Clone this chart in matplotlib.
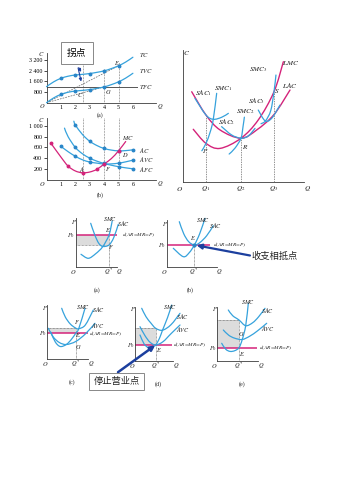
import numpy as np
import matplotlib
matplotlib.use('Agg')
import matplotlib.pyplot as plt
from matplotlib.path import Path
from matplotlib.patches import PathPatch, Rectangle

plt.rcParams['font.family'] = ['Liberation Serif', 'DejaVu Serif']
plt.rcParams['mathtext.fontset'] = 'stix'

W_PX, H_PX = 353, 500
BLUE = '#36a2dc'
DOT = '#2a86c8'
PINK = '#d4237a'
NAVY = '#1c3f9e'
AXC = '#3c3c3c'
SHADE = '#dcdcdc'
CJK = ['Noto Sans CJK SC', 'DejaVu Sans']

# ---------------- data: short-run cost curves (a) ----------------
q_tot = [0, 0.5, 1, 1.5, 2, 2.5, 3, 3.5, 4, 4.5, 5, 5.5, 6]
tc = [1200, 1560, 1820, 1980, 2070, 2120, 2180, 2270, 2380, 2550, 2760, 3040, 3400]
tvc = [0, 360, 620, 780, 870, 920, 980, 1070, 1180, 1350, 1560, 1840, 2200]
tfc = 1200
dot_q_tot = [1, 2, 3, 4, 5]
x_ticks = [1, 2, 3, 4, 5, 6]
y_ticks_a = [800, 1600, 2400, 3200]
y_labels_a = ['800', '1 600', '2 400', '3 200']
guide_q = [2.5, 4, 5]
guide_top_a = [3070, 2500, 3070]

# ---------------- data: average / marginal cost (b) ----------------
q_ac = [1.9, 2, 2.5, 3, 3.5, 4, 4.5, 5, 5.5, 6]
ac = [1090, 1020, 840, 715, 635, 580, 550, 535, 540, 555]
q_avc = [1, 1.5, 2, 2.5, 3, 3.5, 4, 4.5, 5, 5.5, 6]
avc = [620, 520, 435, 368, 327, 306, 290, 292, 305, 330, 362]
q_afc = [1.25, 1.5, 2, 2.5, 3, 3.5, 4, 4.5, 5, 5.5, 6]
afc = [960, 800, 600, 480, 400, 343, 300, 267, 240, 218, 200]
q_mc = [0.3, 1, 1.5, 2, 2.5, 3, 3.5, 4, 4.5, 5, 5.5]
mc = [680, 420, 250, 160, 125, 140, 190, 290, 390, 535, 710]
y_ticks_b = [200, 400, 600, 800, 1000]
y_labels_b = ['200', '400', '600', '800', '1 000']

# ---------------- data: long-run curves ----------------
lac = [(0.67, 6.83), (1.77, 5.06), (2.85, 3.93), (4.46, 3.3), (5.67, 3.93), (7.0, 5.1), (8.23, 6.96)]
lmc = [(0.79, 3.98), (1.77, 2.91), (2.85, 2.53), (4.46, 3.3), (5.79, 4.69), (7.0, 6.83), (7.72, 9.11)]
sac1 = [(0.92, 6.33), (1.77, 5.06), (2.33, 4.74), (2.97, 4.89), (3.49, 5.19)]
smc1 = [(1.45, 2.35), (1.77, 2.91), (2.1, 3.8), (2.33, 4.74), (2.59, 6.71)]
sac2 = [(2.97, 4.18), (3.74, 3.55), (4.46, 3.3), (5.02, 3.47), (5.54, 4.05)]
smc2 = [(3.55, 2.1), (4.0, 2.55), (4.46, 3.3), (4.62, 4.2), (4.72, 4.9)]
sac3 = [(5.79, 5.44), (6.31, 4.63), (6.82, 4.81), (7.46, 5.82)]
smc3 = [(6.0, 4.4), (6.35, 4.62), (6.75, 5.4), (7.0, 6.83), (7.15, 8.1)]
q_long = [1.77, 4.46, 7.0]
q_long_top = [5.06, 3.3, 6.83]

# ---------------- data: firm equilibrium panels (a)-(e) ----------------
# (a) profit
pa_smc = [(5.3, 12.4), (12.6, 8.4), (20, 13), (27, 20), (33.3, 31.7), (36.5, 45.7)]
pa_sac = [(15, 43.4), (19, 32), (23, 23.5), (27, 20.3), (33.3, 21.7), (38, 29), (42.6, 42.4)]
pa_p0, pa_q, pa_f = 31.7, 33.3, 21.7
# (b) break-even
pb_smc = [(6.6, 18.4), (16.6, 10), (22.5, 14), (27.7, 21.7), (33, 33), (38.3, 48.4)]
pb_sac = [(12.6, 45), (17, 33), (22, 25), (27.7, 21.7), (33, 24), (40, 31), (46.6, 41)]
pb_p0, pb_q = 21.7, 27.7
# (c) loss, keep producing
pc_smc = [(3.4, 27), (8, 17), (13, 12.5), (19, 14.5), (24, 19.5), (28.4, 25.7), (31.5, 30.5), (37.7, 50.7)]
pc_sac = [(14.4, 50.7), (18, 42), (23, 35), (28.4, 30.9), (31.5, 30.3), (38, 34), (46, 49)]
pc_avc = [(1, 30.7), (6, 22), (12, 16.5), (19, 14.5), (28.4, 17.5), (38, 25), (47.7, 35.7)]
pc_p0, pc_q, pc_f = 25.7, 28.4, 30.7
# (d) shutdown point
pd_smc = [(5, 25.7), (9, 17), (13, 13.3), (17, 13.6), (20.7, 15.7), (24.5, 22.5), (27.5, 30.5), (32.5, 43), (36.7, 55.7)]
pd_sac = [(6.7, 52.4), (11, 44), (16, 37.5), (20.7, 32.4), (27.5, 30.5), (36, 36), (45, 47.4)]
pd_avc = [(5, 34), (10, 25), (15, 18.5), (20.7, 15.7), (28, 19), (36, 27), (45, 35.7)]
pd_p0, pd_q, pd_f = 15.7, 20.7, 32.4
# (e) below shutdown
pe_smc = [(5, 17.4), (9, 11.5), (13.3, 9.3), (18, 10), (22.3, 13), (25.5, 21), (29, 35), (31.6, 57.4)]
pe_sac = [(11.6, 50.7), (16, 45), (22.3, 40.7), (29, 35), (36, 38), (42, 44), (48.3, 52.4)]
pe_avc = [(6.6, 30.7), (12, 25.5), (18, 22.5), (25.5, 21.2), (33, 24.5), (41, 30), (50, 37.4)]
pe_p0, pe_q, pe_f = 13, 22.3, 40.7


def px_axes(fig, left, top, right, bottom):
    ax = fig.add_axes([left / W_PX, 1 - bottom / H_PX, (right - left) / W_PX, (bottom - top) / H_PX])
    ax.patch.set_alpha(0)
    for s in ['top', 'right']:
        ax.spines[s].set_visible(False)
    for s in ['left', 'bottom']:
        ax.spines[s].set_color(AXC)
        ax.spines[s].set_linewidth(0.6)
    return ax


def smooth(ax, pts, color, lw=0.9, zorder=3):
    """catmull-rom through the read points, drawn as a bezier path"""
    p = np.asarray(pts, float)
    ext = np.vstack([p[0], p, p[-1]])
    verts = [p[0]]
    codes = [Path.MOVETO]
    for i in range(len(p) - 1):
        p0, p1, p2, p3 = ext[i], ext[i + 1], ext[i + 2], ext[i + 3]
        verts += [p1 + (p2 - p0) / 6, p2 - (p3 - p1) / 6, p2]
        codes += [Path.CURVE4] * 3
    ax.add_patch(PathPatch(Path(verts, codes), fill=False, edgecolor=color, lw=lw,
                           clip_on=False, capstyle='round', zorder=zorder))


def lab(ax, x, y, s, size=4.6, ha='center', **kw):
    ax.text(x, y, s, fontsize=size, ha=ha, va='center', color='#222222', **kw)


def pts(xs, ys):
    return list(zip(xs, ys))


fig = plt.figure(figsize=(3.53, 5.0), dpi=100)

# ================= (a) total cost =================
axa = px_axes(fig, 46.5, 102.7 - 3700 / 800 * 10.7, 46.5 + 14.4 * 7.6, 102.7)
axa.set_xlim(0, 7.6)
axa.set_ylim(0, 3700)
axa.set_xticks(x_ticks)
axa.set_xticklabels([str(v) for v in x_ticks])
axa.set_yticks(y_ticks_a)
axa.set_yticklabels(y_labels_a)
axa.tick_params(axis='x', length=0, pad=1.5, labelsize=4.3)
axa.tick_params(axis='y', length=2, width=0.5, pad=1, labelsize=4.3)
for gq, gt in zip(guide_q, guide_top_a):
    axa.plot([gq, gq], [0, gt], ls=(0, (1, 1.2)), color='#555555', lw=0.5)
axa.plot([0, 6.3], [tfc, tfc], color='#555555', lw=0.7)
i_e = q_tot.index(5)
i_g = q_tot.index(4)
axa.plot([0, 5], [0, tc[i_e]], ls=(0, (2.5, 1.5)), color='#666666', lw=0.5)
axa.plot([0, 4], [0, tvc[i_g]], ls=(0, (2.5, 1.5)), color='#666666', lw=0.5)
smooth(axa, pts(q_tot, tc), BLUE)
smooth(axa, pts(q_tot, tvc), BLUE)
idx = [q_tot.index(v) for v in dot_q_tot]
axa.plot([q_tot[i] for i in idx], [tc[i] for i in idx], 'o', ms=1.8, color=DOT, zorder=4)
axa.plot([q_tot[i] for i in idx], [tvc[i] for i in idx], 'o', ms=1.8, color=DOT, zorder=4)
lab(axa, 6.45, 3560, r'$TC$', ha='left')
lab(axa, 6.45, 2390, r'$TVC$', ha='left')
lab(axa, 6.45, 1200, r'$TFC$', ha='left')
lab(axa, 4.92, 2990, r'$E$')
lab(axa, 4.3, 820, r'$G$')
lab(axa, 2.33, 575, r'$C$')
lab(axa, -0.3, -260, r'$O$')
lab(axa, 7.9, -300, r'$Q$')
lab(axa, -0.35, 3650, r'$C$')
lab(axa, 3.72, -920, '(a)', size=4.3)
i_c = q_tot.index(2.5)
axa.annotate('', xy=(2.5, tc[i_c]), xytext=(2.15, 2800),
             arrowprops=dict(arrowstyle='-|>', color=NAVY, lw=0.8, mutation_scale=4))
axa.annotate('', xy=(2.45, 1380), xytext=(2.15, 2800),
             arrowprops=dict(arrowstyle='-|>', color=NAVY, lw=0.8, mutation_scale=4))
fig.text(77 / W_PX, 1 - 53 / H_PX, '拐点', family=CJK, fontsize=7, ha='center', va='center',
         bbox=dict(boxstyle='square,pad=0.6', fc='white', ec='#888888', lw=0.7))

# ================= (b) unit cost =================
axb = px_axes(fig, 46.5, 179.5 - 1150 / 200 * 10.7, 46.5 + 14.4 * 7.6, 179.5)
axb.set_xlim(0, 7.6)
axb.set_ylim(0, 1150)
axb.set_xticks(x_ticks)
axb.set_xticklabels([str(v) for v in x_ticks])
axb.set_yticks(y_ticks_b)
axb.set_yticklabels(y_labels_b)
axb.tick_params(axis='x', length=0, pad=1.5, labelsize=4.3)
axb.tick_params(axis='y', length=2, width=0.5, pad=1, labelsize=4.3)
for gq in guide_q:
    axb.plot([gq, gq], [0, 1150], ls=(0, (1, 1.2)), color='#555555', lw=0.5)
smooth(axb, pts(q_ac, ac), BLUE)
smooth(axb, pts(q_avc, avc), BLUE)
smooth(axb, pts(q_afc, afc), BLUE)
smooth(axb, pts(q_mc, mc), PINK)
for qs, vs, sel in [(q_ac, ac, [2, 3, 4, 5, 6]), (q_avc, avc, [1, 2, 3, 4, 5, 6]),
                    (q_afc, afc, [2, 3, 4, 5, 6])]:
    axb.plot([qs[qs.index(v)] for v in sel], [vs[qs.index(v)] for v in sel], 'o', ms=1.8, color=DOT, zorder=4)
mc_sel = [0.3, 1.5, 2.5, 3.5, 4, 5]
axb.plot(mc_sel, [mc[q_mc.index(v)] for v in mc_sel], 'o', ms=1.8, color=PINK, zorder=4)
lab(axb, 5.68, 770, r'$MC$')
lab(axb, 6.45, 551, r'$AC$', ha='left')
lab(axb, 6.45, 365, r'$AVC$', ha='left')
lab(axb, 6.45, 190, r'$AFC$', ha='left')
lab(axb, 5.45, 458, r'$D$')
lab(axb, 4.3, 190, r'$F$')
lab(axb, 2.45, 190, r'$A$')
lab(axb, -0.3, -75, r'$O$')
lab(axb, 7.9, -80, r'$Q$')
lab(axb, -0.35, 1120, r'$C$')
lab(axb, 3.72, -290, '(b)', size=4.3)

# ================= long run =================
axl = px_axes(fig, 183, 50, 313, 181.7)
axl.set_xlim(0, 10)
axl.set_ylim(0, 10)
axl.set_xticks([])
axl.set_yticks([])
axl.spines['bottom'].set_bounds(0, 9.3)
for ql, qt in zip(q_long, q_long_top):
    axl.plot([ql, ql], [0, qt], ls=(0, (2, 1.5)), color='#666666', lw=0.5)
smooth(axl, lac, PINK, lw=1.0)
smooth(axl, lmc, PINK, lw=1.0)
for c in [sac1, smc1, sac2, smc2, sac3, smc3]:
    smooth(axl, c, BLUE, lw=0.9)
sz = 5.2
lab(axl, 8.3, 9.04, r'$LMC$', size=sz)
lab(axl, 8.25, 7.34, r'$LAC$', size=sz)
lab(axl, 5.8, 8.53, r'$SMC_3$', size=sz)
lab(axl, 7.2, 6.89, r'$S$', size=sz)
lab(axl, 5.62, 6.15, r'$SAC_3$', size=sz)
lab(axl, 4.77, 5.3, r'$SMC_2$', size=sz)
lab(axl, 3.36, 4.56, r'$SAC_2$', size=sz)
lab(axl, 1.56, 6.71, r'$SAC_1$', size=sz)
lab(axl, 3.1, 7.09, r'$SMC_1$', size=sz)
lab(axl, 1.69, 2.36, r'$P$', size=sz)
lab(axl, 4.77, 2.65, r'$R$', size=sz)
lab(axl, 0.3, 9.77, r'$C$', size=sz)
lab(axl, -0.23, -0.55, r'$O$', size=sz)
lab(axl, q_long[0], -0.55, r'$Q_1$', size=sz)
lab(axl, q_long[1], -0.55, r'$Q_2$', size=sz)
lab(axl, q_long[2], -0.55, r'$Q_3$', size=sz)
lab(axl, 9.55, -0.55, r'$Q$', size=sz)


# ================= firm equilibrium panels =================
def small_panel(x0, y0, w, h):
    ax = px_axes(fig, x0, y0 - h, x0 + w, y0)
    ax.set_xlim(0, w)
    ax.set_ylim(0, h)
    ax.set_xticks([])
    ax.set_yticks([])
    return ax


def base_marks(ax, p0, qs, line_end, d_x, w, tag, tag_x, p0_x=-4.2):
    ax.plot([0, line_end], [p0, p0], color=PINK, lw=1.1, zorder=2, solid_capstyle='butt')
    lab(ax, d_x, p0, r'$d(AR\!=\!MR\!=\!P)$', size=3.9, ha='left')
    lab(ax, -2.2, 51.5 if ax.get_ylim()[1] > 50 else ax.get_ylim()[1] - 4, r'$P$')
    lab(ax, p0_x, p0 - 0.5, r'$P_0$')
    lab(ax, -2.5, -5, r'$O$')
    lab(ax, qs, -5, r'$Q^*$')
    lab(ax, w + 2.5, -5, r'$Q$')
    lab(ax, tag_x, -23.5, tag, size=4.3)


def profit_box(ax, p0, qs, f):
    lo, hi = min(p0, f), max(p0, f)
    ax.add_patch(Rectangle((0, lo), qs, hi - lo, fc=SHADE, ec='none', zorder=1))
    ax.plot([0, qs], [f, f], ls=(0, (1, 1)), color='#555555', lw=0.5)
    ax.plot([qs, qs], [0, hi], ls=(0, (1, 1)), color='#555555', lw=0.5)


# (a)
ax1 = small_panel(75.7, 266.7, 41, 49)
profit_box(ax1, pa_p0, pa_q, pa_f)
smooth(ax1, pa_smc, BLUE)
smooth(ax1, pa_sac, BLUE)
base_marks(ax1, pa_p0, pa_q, 44.3, 46, 41, '(a)', 21)
lab(ax1, 34.3, 47.5, r'$SMC$', size=4.3)
lab(ax1, 47.8, 43.4, r'$SAC$', size=4.3)
lab(ax1, 32, 36.7, r'$E$')
lab(ax1, 35.5, 19.5, r'$F$')

# (b)
ax2 = small_panel(166.7, 266.7, 50, 46.7)
ax2.plot([pb_q, pb_q], [0, pb_p0], ls=(0, (1, 1)), color='#555555', lw=0.5)
smooth(ax2, pb_smc, BLUE)
smooth(ax2, pb_sac, BLUE)
base_marks(ax2, pb_p0, pb_q, 43.3, 46.6, 50, '(b)', 23.3)
ax2.plot([pb_q], [pb_p0], 'o', ms=2, color=DOT, zorder=4)
lab(ax2, 36, 47, r'$SMC$', size=4.3)
lab(ax2, 49, 41.7, r'$SAC$', size=4.3)
lab(ax2, 26.6, 28.4, r'$E$')
ax2.annotate('', xy=(pb_q + 2.3, pb_p0 - 0.4), xytext=(83.3, 11.2),
             arrowprops=dict(arrowstyle='-|>', color=NAVY, lw=1.6, mutation_scale=7, shrinkA=0, shrinkB=0))
ax2.text(85, 10.7, '收支相抵点', family=CJK, fontsize=6.7, ha='left', va='center', color='#222222')

# (c)
ax3 = small_panel(47.3, 359, 41, 54)
profit_box(ax3, pc_p0, pc_q, pc_f)
smooth(ax3, pc_smc, BLUE)
smooth(ax3, pc_sac, BLUE)
smooth(ax3, pc_avc, BLUE)
base_marks(ax3, pc_p0, pc_q, 42.7, 41.5, 41, '(c)', 24.4)
lab(ax3, 35.5, 52.3, r'$SMC$', size=4.3)
lab(ax3, 51, 49, r'$SAC$', size=4.3)
lab(ax3, 51, 34, r'$AVC$', size=4.3)
lab(ax3, 29.4, 37.3, r'$F$')
lab(ax3, 31, 24.2, r'$E$')
lab(ax3, 31, 12.3, r'$G$')

# (d)
ax4 = small_panel(135, 360.7, 38.3, 54)
profit_box(ax4, pd_p0, pd_q, pd_f)
smooth(ax4, pd_smc, BLUE)
smooth(ax4, pd_sac, BLUE)
smooth(ax4, pd_avc, BLUE)
base_marks(ax4, pd_p0, pd_q, 36.7, 38.0, 38.3, '(d)', 23.3)
lab(ax4, 35, 54, r'$SMC$', size=4.3)
lab(ax4, 47.7, 44, r'$SAC$', size=4.3)
lab(ax4, 47.7, 31.7, r'$AVC$', size=4.3)
lab(ax4, 24.3, 10.7, r'$E$')
ax4.annotate('', xy=(pd_q - 0.5, pd_p0 - 0.3), xytext=(-17, -11.5),
             arrowprops=dict(arrowstyle='-|>', color=NAVY, lw=1.8, mutation_scale=7, shrinkA=0, shrinkB=0))
fig.text(116.7 / W_PX, 1 - 381.5 / H_PX, '停止营业点', family=CJK, fontsize=6.7, ha='center', va='center',
         color='#222222', bbox=dict(boxstyle='square,pad=0.45', fc='white', ec='#888888', lw=0.7), zorder=10)

# (e)
ax5 = small_panel(216.7, 360.7, 41.6, 54)
profit_box(ax5, pe_p0, pe_q, pe_f)
smooth(ax5, pe_smc, BLUE)
smooth(ax5, pe_sac, BLUE)
smooth(ax5, pe_avc, BLUE)
base_marks(ax5, pe_p0, pe_q, 40, 42.3, 41.6, '(e)', 25, p0_x=-3.3)
lab(ax5, 31, 58.4, r'$SMC$', size=4.3)
lab(ax5, 51, 49.7, r'$SAC$', size=4.3)
lab(ax5, 51, 32.4, r'$AVC$', size=4.3)
lab(ax5, 25, 26.4, r'$G$')
lab(ax5, 25, 6.4, r'$E$')

fig.savefig('out.png', dpi=100)
